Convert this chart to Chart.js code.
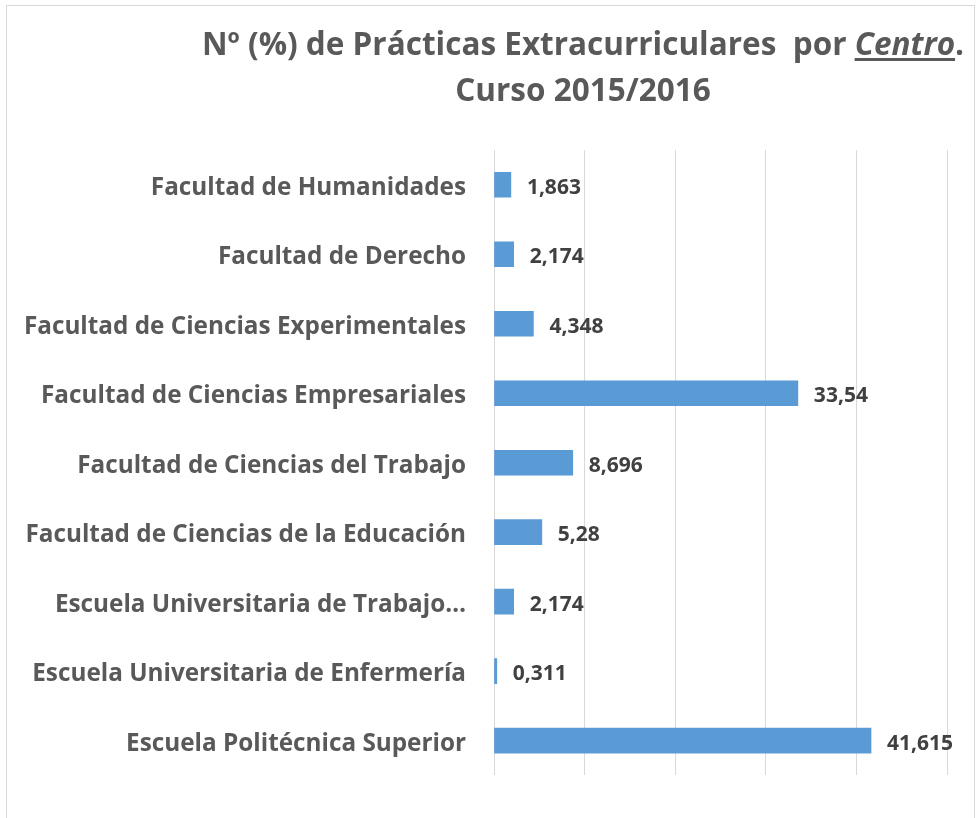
<!DOCTYPE html>
<html>
<head>
<meta charset="utf-8">
<script src="https://cdn.jsdelivr.net/npm/chart.js@4"></script>
<style>
html,body{margin:0;padding:0;background:#fff;}
#wrap{position:relative;width:976px;height:818px;overflow:hidden;}
#frame{position:absolute;left:6px;top:5px;width:969px;height:830px;border:1px solid #d9d9d9;box-sizing:border-box;}
#title{position:absolute;left:190px;width:786px;top:20px;text-align:center;font-family:"Open Sans",sans-serif;font-weight:bold;font-size:31.5px;color:#595959;line-height:46px;white-space:nowrap;}
#title u{font-style:italic;text-underline-offset:3px;}
#c{position:absolute;left:0;top:0;}
</style>
</head>
<body>
<div id="wrap">
<div id="frame"></div>
<canvas id="c" width="976" height="818"></canvas>
<div id="title">Nº (%) de Prácticas Extracurriculares&nbsp; por <u>Centro</u>.<br>Curso 2015/2016</div>
</div>
<script>
const categories = [
  "Facultad de Humanidades",
  "Facultad de Derecho",
  "Facultad de Ciencias Experimentales",
  "Facultad de Ciencias Empresariales",
  "Facultad de Ciencias del Trabajo",
  "Facultad de Ciencias de la Educación",
  "Escuela Universitaria de Trabajo…",
  "Escuela Universitaria de Enfermería",
  "Escuela Politécnica Superior"
];
const values = [1.863, 2.174, 4.348, 33.54, 8.696, 5.28, 2.174, 0.311, 41.615];
const valueLabels = ["1,863", "2,174", "4,348", "33,54", "8,696", "5,28", "2,174", "0,311", "41,615"];
const xTicks = [0, 10, 20, 30, 40, 50];

const valueLabelPlugin = {
  id: 'valueLabels',
  afterDatasetsDraw(chart) {
    const ctx = chart.ctx;
    const meta = chart.getDatasetMeta(0);
    ctx.save();
    ctx.font = 'bold 21px "Open Sans", sans-serif';
    ctx.fillStyle = '#404040';
    ctx.textAlign = 'left';
    ctx.textBaseline = 'middle';
    meta.data.forEach((bar, i) => {
      ctx.fillText(valueLabels[i], bar.x + 16, bar.y + 3);
    });
    ctx.restore();
  }
};

new Chart(document.getElementById('c'), {
  type: 'bar',
  data: {
    labels: categories,
    datasets: [{
      data: values,
      backgroundColor: '#5B9BD5',
      borderWidth: 0,
      barThickness: 25
    }]
  },
  options: {
    indexAxis: 'y',
    responsive: false,
    animation: false,
    layout: { padding: { top: 150, bottom: 28, right: 29, left: 0 } },
    plugins: { legend: { display: false }, tooltip: { enabled: false }, title: { display: false } },
    scales: {
      x: {
        min: 0, max: 50,
        afterBuildTicks(scale) { scale.ticks = xTicks.map(v => ({ value: v })); },
        ticks: { display: false },
        grid: { color: '#d9d9d9', lineWidth: 1, drawTicks: false },
        border: { display: false }
      },
      y: {
        afterFit(scale) { scale.width = 494; },
        ticks: { color: '#595959', font: { family: '"Open Sans", sans-serif', weight: 'bold', size: 24.3 }, padding: 28, labelOffset: 3, autoSkip: false },
        grid: { display: false, drawTicks: false },
        border: { display: false }
      }
    }
  },
  plugins: [valueLabelPlugin]
});
</script>
</body>
</html>
